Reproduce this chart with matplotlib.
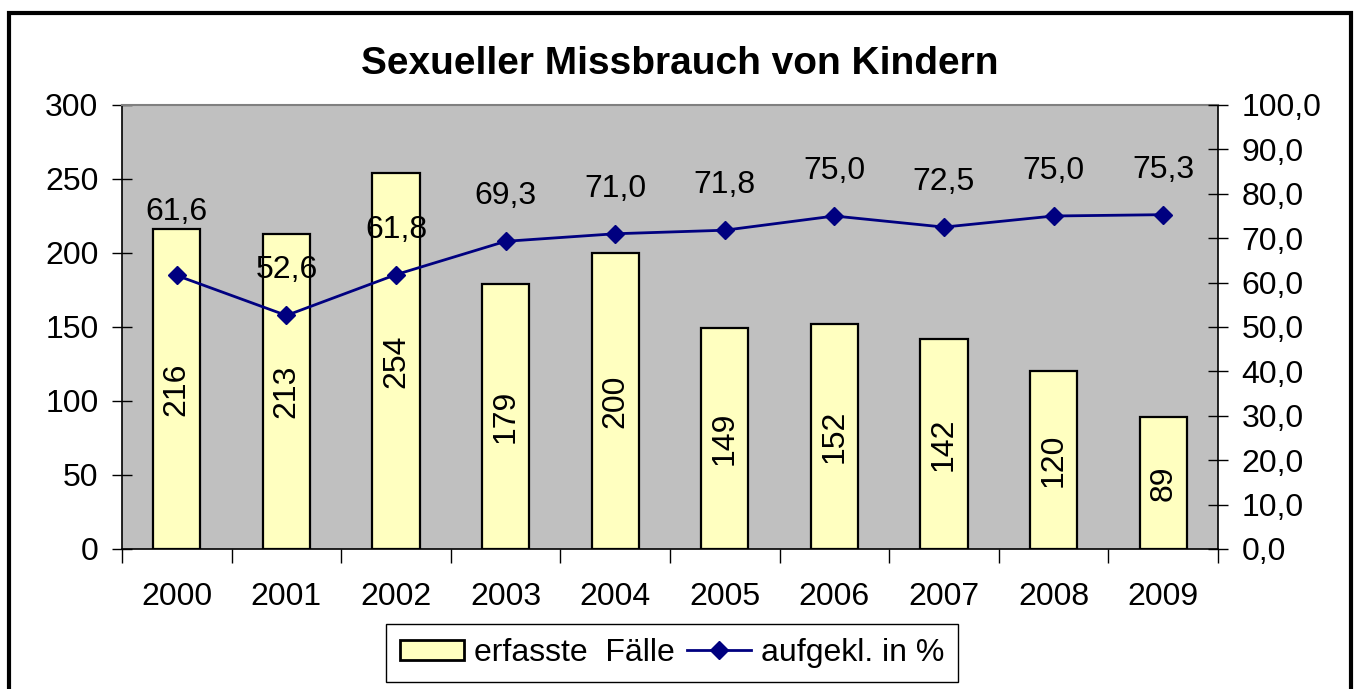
import matplotlib.pyplot as plt
from matplotlib.patches import Rectangle
from matplotlib.lines import Line2D
from matplotlib.ticker import FuncFormatter

plt.rcParams['font.family'] = ['Liberation Sans', 'DejaVu Sans']

# Daten
jahre = ['2000', '2001', '2002', '2003', '2004', '2005', '2006', '2007', '2008', '2009']
faelle = [216, 213, 254, 179, 200, 149, 152, 142, 120, 89]
aufgeklaert = [61.6, 52.6, 61.8, 69.3, 71.0, 71.8, 75.0, 72.5, 75.0, 75.3]

fs = 23

fig = plt.figure(figsize=(13.57, 6.89), dpi=100)
ax = fig.add_axes([122 / 1357, 1 - 549 / 689, 1096 / 1357, 444 / 689])
ax.set_facecolor('#C0C0C0')

x = range(len(jahre))
balken = ax.bar(x, faelle, width=0.43, color='#FFFFC0', edgecolor='black', linewidth=1.6, zorder=2)
ax.set_xlim(-0.5, len(jahre) - 0.5)
ax.set_ylim(0, 300)
ax.set_yticks(range(0, 301, 50))
ax.tick_params(axis='y', direction='inout', length=14, width=1, labelsize=fs, pad=10)

# Kategoriegrenzen als Ticks
ax.set_xticks([i - 0.5 for i in range(len(jahre) + 1)], minor=False)
ax.set_xticklabels([])
ax.set_xticks(list(x), minor=True)
ax.set_xticklabels(jahre, minor=True)
ax.tick_params(axis='x', which='major', direction='out', length=10, width=1)
ax.tick_params(axis='x', which='minor', length=0, labelsize=fs, pad=24)

for s in ['left', 'right', 'bottom']:
    ax.spines[s].set_color('black')
    ax.spines[s].set_linewidth(1.2)
ax.spines['top'].set_color('#808080')
ax.spines['top'].set_linewidth(1.5)

for b, v in zip(balken, faelle):
    ax.text(b.get_x() + b.get_width() / 2, v / 2, str(v), rotation=90,
            ha='center', va='center', fontsize=fs, zorder=3)

ax2 = ax.twinx()
ax2.plot(list(x), aufgeklaert, color='#000080', linewidth=2, marker='D', markersize=9, zorder=4)
ax2.set_ylim(0, 100)
ax2.set_yticks(range(0, 101, 10))
ax2.yaxis.set_major_formatter(FuncFormatter(lambda v, p: f'{v:.1f}'.replace('.', ',')))
ax2.tick_params(axis='y', direction='inout', length=14, width=1, labelsize=fs, pad=10)
for s in ['left', 'right', 'bottom', 'top']:
    ax2.spines[s].set_visible(False)

for i, v in enumerate(aufgeklaert):
    versatz = 45 if i else 63
    ax2.annotate(f'{v:.1f}'.replace('.', ','), (i, v), xytext=(0, versatz * 0.72),
                 textcoords='offset points', ha='center', va='center', fontsize=fs, zorder=5)

fig.text(680 / 1357, 1 - 64 / 689, 'Sexueller Missbrauch von Kindern', ha='center', va='center',
         fontsize=28, fontweight='bold')

handles = [Rectangle((0, 0), 1, 1, facecolor='#FFFFC0', edgecolor='black', linewidth=2),
           Line2D([], [], color='#000080', linewidth=2, marker='D', markersize=9)]
leg = fig.legend(handles, ['erfasste  Fälle', 'aufgekl. in %'], loc='center',
                 bbox_to_anchor=(672 / 1357, 1 - 653 / 689), ncol=2, fontsize=fs,
                 frameon=True, fancybox=False, edgecolor='black', framealpha=1,
                 handlelength=2.0, handleheight=0.6, handletextpad=0.3, columnspacing=0.4,
                 borderpad=0.45, borderaxespad=0)
leg.get_frame().set_linewidth(1)

fig.patches.append(Rectangle((9 / 1357, -0.02), 1342 / 1357, 1.02 - 13 / 689, transform=fig.transFigure,
                             fill=False, edgecolor='black', linewidth=3))

fig.savefig('out.png', dpi=100)
